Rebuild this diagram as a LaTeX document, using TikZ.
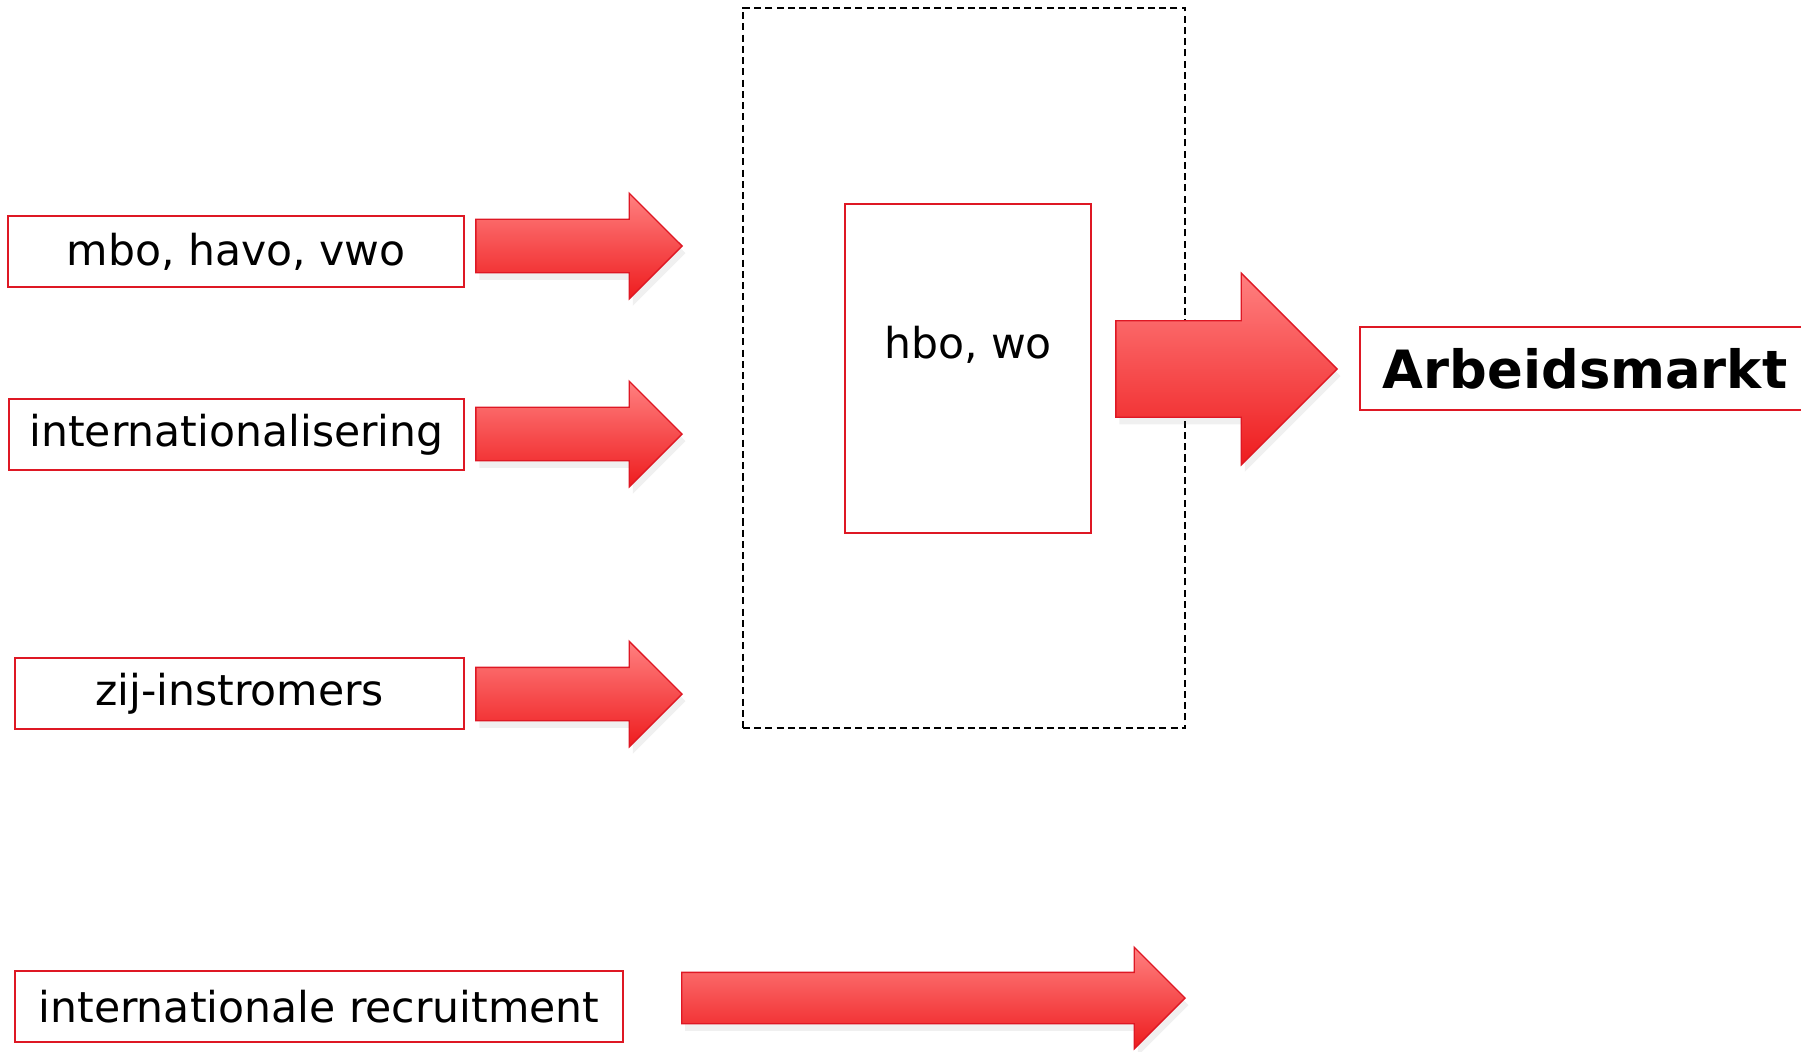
\documentclass[tikz,border=0pt]{standalone}
\usepackage{fontspec}
\setmainfont{DejaVu Sans}
\usepackage{xcolor}
\usepackage{tikz}
\usetikzlibrary{calc, shapes.arrows, shadows}

\definecolor{boxred}{RGB}{222,24,36}
\definecolor{arrowtop}{RGB}{255,128,128}
\definecolor{arrowbot}{RGB}{238,28,30}

\begin{document}
\begin{tikzpicture}[
    x=0.01cm, y=-0.01cm,
    inbox/.style={rectangle, draw=boxred, line width=0.6pt, fill=white, minimum height=0.71cm, inner sep=0pt, align=center, font=\fontsize{12.1}{15}\selectfont},
    flow/.style={single arrow, draw=boxred, line width=0.4pt, top color=arrowtop, bottom color=arrowbot, inner xsep=0pt, inner ysep=#1, minimum width=0pt, single arrow head extend=#1, anchor=tip, outer sep=0pt, drop shadow={opacity=0.12, shadow xshift=1pt, shadow yshift=-2pt}},
    group/.style={rectangle, draw=black, line width=0.6pt, dash pattern=on 2pt off 1.2pt, inner sep=0pt}
]
    \useasboundingbox (0,0) rectangle (1801,1051);

    % hoger onderwijs (gestippeld)
    \node[group, minimum width=4.42cm, minimum height=7.2cm] (hoger) at (964,368) {};
    \node[inbox, minimum width=2.46cm, minimum height=3.29cm] (hbo) at (968,368.5) {};
    \node[font=\fontsize{12.1}{15}\selectfont] (hbotext) at ($(hbo.center)+(0,-24)$) {hbo, wo};

    % Instroom
    \node[inbox, minimum width=4.56cm] (mbo) at (236,251.5) {mbo, havo, vwo};
    \node[inbox, minimum width=4.55cm] (intl) at (236.5,434.5) {internationalisering};
    \node[inbox, minimum width=4.49cm] (zij) at (239.5,693.5) {zij-instromers};
    \node[inbox, minimum width=6.08cm] (recr) at (319,1006.5) {internationale recruitment};

    % Arbeidsmarkt
    \node[inbox, minimum width=4.5cm, minimum height=0.83cm, font=\fontsize{15}{18}\selectfont\bfseries] (markt) at (1585,368.5) {Arbeidsmarkt};

    % Pijlen
    \node[flow=0.26cm, minimum height=2.06cm] (a1) at (682,246) {};
    \node[flow=0.26cm, minimum height=2.06cm] (a2) at (682,434) {};
    \node[flow=0.26cm, minimum height=2.06cm] (a3) at (682,694) {};
    \node[flow=0.25cm, minimum height=5.03cm] (a4) at (1185,998) {};
    \node[flow=0.475cm, minimum height=2.21cm] (a5) at (1337,369) {};
\end{tikzpicture}
\end{document}
